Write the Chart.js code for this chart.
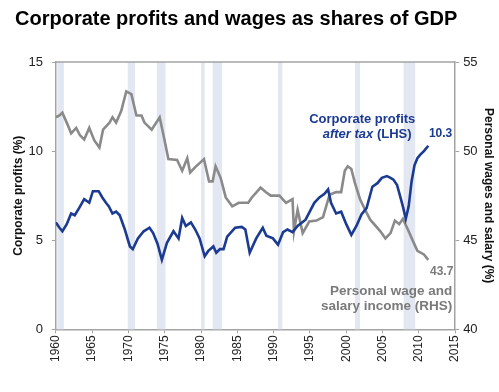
<!DOCTYPE html>
<html>
<head>
<meta charset="utf-8">
<script src="https://cdn.jsdelivr.net/npm/chart.js@4"></script>
<style>
  html, body { margin: 0; padding: 0; background: #fff; }
  #wrap { width: 499px; height: 392px; position: relative; }
</style>
</head>
<body>
<div id="wrap"><canvas id="profitsChart"></canvas></div>
<script>
// Corporate profits after tax, % of GDP (LHS)
const profitYears = [1960.0, 1960.5, 1960.9, 1961.5, 1962.1, 1962.6, 1963.2, 1963.9, 1964.6, 1965.1, 1965.9, 1966.4, 1966.9, 1967.3, 1967.8, 1968.3, 1968.8, 1969.5, 1970.2, 1970.6, 1971.3, 1972.1, 1972.9, 1973.4, 1974.0, 1974.6, 1975.3, 1976.2, 1976.9, 1977.4, 1977.9, 1978.6, 1979.2, 1979.8, 1980.5, 1981.0, 1981.7, 1982.1, 1982.6, 1983.1, 1983.6, 1984.7, 1985.6, 1986.1, 1986.7, 1987.6, 1988.5, 1989.0, 1989.9, 1990.6, 1991.3, 1991.9, 1992.6, 1993.3, 1994.4, 1995.6, 1996.3, 1997.0, 1997.5, 1997.9, 1998.6, 1999.3, 2000.0, 2000.7, 2001.4, 2002.1, 2002.8, 2003.6, 2004.3, 2004.9, 2005.6, 2006.1, 2006.5, 2007.0, 2007.4, 2007.8, 2008.2, 2008.6, 2009.0, 2009.4, 2009.8, 2010.2, 2010.7, 2011.3];
const profitValues = [6.0, 5.7, 5.5, 5.9, 6.5, 6.4, 6.8, 7.3, 7.1, 7.75, 7.75, 7.4, 7.1, 6.9, 6.5, 6.6, 6.4, 5.6, 4.65, 4.5, 5.1, 5.5, 5.7, 5.4, 4.8, 3.9, 4.85, 5.5, 5.1, 6.25, 5.8, 6.0, 5.6, 5.1, 4.1, 4.4, 4.65, 4.3, 4.5, 4.5, 5.2, 5.7, 5.75, 5.6, 4.3, 5.1, 5.7, 5.25, 5.1, 4.75, 5.45, 5.6, 5.45, 5.8, 6.15, 7.1, 7.4, 7.6, 7.85, 7.1, 6.5, 6.6, 5.9, 5.3, 5.8, 6.45, 6.8, 8.0, 8.2, 8.5, 8.6, 8.5, 8.4, 8.1, 7.5, 6.9, 6.2, 6.9, 8.3, 9.2, 9.6, 9.8, 10.0, 10.3];

// Personal wage and salary income, % of GDP (RHS)
const wageYears = [1960.0, 1960.5, 1960.9, 1961.6, 1962.1, 1962.8, 1963.3, 1963.9, 1964.6, 1965.3, 1966.0, 1966.5, 1967.4, 1967.8, 1968.3, 1969.0, 1969.7, 1970.4, 1971.1, 1971.8, 1972.2, 1973.2, 1974.3, 1974.8, 1975.5, 1976.7, 1977.4, 1978.1, 1978.5, 1979.2, 1980.4, 1981.1, 1981.6, 1982.0, 1982.7, 1983.4, 1984.3, 1985.2, 1986.5, 1987.0, 1988.2, 1988.9, 1989.6, 1990.8, 1991.7, 1992.6, 1992.8, 1993.3, 1994.0, 1994.9, 1995.9, 1996.8, 1997.7, 1998.6, 1999.3, 1999.8, 2000.2, 2000.7, 2001.2, 2001.9, 2002.6, 2003.3, 2004.7, 2005.4, 2006.1, 2006.7, 2007.3, 2007.8, 2008.6, 2009.3, 2009.8, 2010.7, 2011.3];
const wageValues = [51.9, 52.0, 52.15, 51.5, 51.0, 51.3, 50.9, 50.65, 51.3, 50.6, 50.2, 51.2, 51.6, 51.9, 51.6, 52.25, 53.35, 53.2, 52.0, 52.0, 51.6, 51.2, 51.9, 50.95, 49.55, 49.5, 48.9, 49.6, 48.8, 49.1, 49.55, 48.3, 48.3, 49.15, 48.5, 47.4, 46.9, 47.1, 47.1, 47.4, 47.95, 47.7, 47.5, 47.5, 47.1, 47.3, 45.5, 46.7, 45.4, 46.05, 46.1, 46.3, 47.55, 47.7, 47.7, 48.9, 49.15, 49.0, 48.2, 47.3, 46.7, 46.15, 45.5, 45.1, 45.4, 46.1, 45.9, 46.2, 45.5, 44.85, 44.4, 44.2, 43.9];

// US recessions (shaded)
const recessionStarts = [1960.2, 1969.9, 1973.9, 1980.0, 1981.6, 1990.6, 2001.2, 2007.9];
const recessionEnds   = [1961.1, 1970.9, 1975.1, 1980.5, 1982.9, 1991.2, 2001.9, 2009.5];

const xTicks = [1960, 1965, 1970, 1975, 1980, 1985, 1990, 1995, 2000, 2005, 2010, 2015];
const leftTicks = [0, 5, 10, 15];
const rightTicks = [40, 45, 50, 55];

const BLUE = '#1b3a92';
const GREY = '#8a8a8a';
const AXIS = '#a3a3a3';
const FONT = '"Liberation Sans", Arial, sans-serif';

const recessionBands = {
    id: 'recessionBands',
    beforeDatasetsDraw(chart) {
        const { ctx, chartArea, scales } = chart;
        ctx.save();
        ctx.fillStyle = '#e3e7f1';
        recessionStarts.forEach((s, i) => {
            const x1 = scales.x.getPixelForValue(s);
            const x2 = scales.x.getPixelForValue(recessionEnds[i]);
            ctx.fillRect(x1, chartArea.top, x2 - x1, chartArea.bottom - chartArea.top);
        });
        // top frame line
        ctx.strokeStyle = AXIS;
        ctx.lineWidth = 1.5;
        ctx.beginPath();
        ctx.moveTo(chartArea.left, chartArea.top);
        ctx.lineTo(chartArea.right, chartArea.top);
        ctx.stroke();
        ctx.restore();
    }
};

const labelsPlugin = {
    id: 'labelsPlugin',
    afterDraw(chart) {
        const { ctx, scales } = chart;
        const x = scales.x, y = scales.y, y1 = scales.y1;
        ctx.save();
        // Title
        ctx.fillStyle = '#000';
        ctx.font = 'bold 20px ' + FONT;
        ctx.textAlign = 'left';
        ctx.textBaseline = 'alphabetic';
        ctx.fillText('Corporate profits and wages as shares of GDP', 15, 25);

        // Corporate profits annotation
        ctx.fillStyle = BLUE;
        ctx.textBaseline = 'middle';
        ctx.textAlign = 'center';
        ctx.font = 'bold 13px ' + FONT;
        ctx.fillText('Corporate profits', x.getPixelForValue(2002.2), y.getPixelForValue(11.8));
        ctx.textAlign = 'right';
        const rowY = y.getPixelForValue(10.95);
        const rowRight = x.getPixelForValue(2009.0);
        ctx.fillText('(LHS)', rowRight, rowY);
        const lhsW = ctx.measureText('(LHS) ').width;
        ctx.font = 'italic bold 13px ' + FONT;
        ctx.fillText('after tax', rowRight - lhsW, rowY);
        ctx.font = 'bold 12px ' + FONT;
        ctx.fillText('10.3', x.getPixelForValue(2014.6), rowY);

        // Wages annotation
        ctx.fillStyle = '#7a7a7a';
        ctx.fillText('43.7', x.getPixelForValue(2014.75), y1.getPixelForValue(43.26));
        ctx.font = 'bold 13.5px ' + FONT;
        ctx.fillText('Personal wage and', x.getPixelForValue(2014.6), y1.getPixelForValue(42.13));
        ctx.fillText('salary income (RHS)', x.getPixelForValue(2014.6), y1.getPixelForValue(41.29));
        ctx.restore();
    }
};

const ctx = document.getElementById('profitsChart').getContext('2d');
new Chart(ctx, {
    type: 'line',
    data: {
        datasets: [
            {
                label: 'Corporate profits after tax (LHS)',
                data: profitYears.map((yr, i) => ({ x: yr, y: profitValues[i] })),
                borderColor: BLUE,
                borderWidth: 2.6,
                pointRadius: 0,
                tension: 0,
                yAxisID: 'y'
            },
            {
                label: 'Personal wage and salary income (RHS)',
                data: wageYears.map((yr, i) => ({ x: yr, y: wageValues[i] })),
                borderColor: GREY,
                borderWidth: 2.6,
                pointRadius: 0,
                tension: 0,
                yAxisID: 'y1'
            }
        ]
    },
    options: {
        responsive: true,
        maintainAspectRatio: false,
        animation: false,
        layout: { padding: { top: 62, bottom: 28, left: 1, right: -5 } },
        plugins: {
            legend: { display: false },
            tooltip: { enabled: false },
            title: { display: false }
        },
        scales: {
            x: {
                type: 'linear',
                min: 1960,
                max: 2015,
                afterBuildTicks: (axis) => { axis.ticks = xTicks.map(v => ({ value: v })); },
                ticks: {
                    minRotation: 90,
                    maxRotation: 90,
                    color: '#222',
                    font: { family: FONT, size: 12 },
                    padding: 2,
                    callback: v => String(v)
                },
                grid: { drawOnChartArea: false, color: AXIS, tickLength: 4 },
                border: { color: AXIS, width: 1.5 }
            },
            y: {
                position: 'left',
                min: 0,
                max: 15,
                afterBuildTicks: (axis) => { axis.ticks = leftTicks.map(v => ({ value: v })); },
                ticks: { color: '#222', font: { family: FONT, size: 13 }, padding: 9 },
                grid: { drawOnChartArea: false, color: AXIS, tickLength: 4 },
                border: { color: AXIS, width: 1.5 },
                title: {
                    display: true,
                    text: 'Corporate profits (%)',
                    color: '#111',
                    font: { family: FONT, size: 12, weight: 'bold' },
                    padding: { top: 10, bottom: -6 }
                }
            },
            y1: {
                position: 'right',
                min: 40,
                max: 55,
                afterBuildTicks: (axis) => { axis.ticks = rightTicks.map(v => ({ value: v })); },
                ticks: { color: '#222', font: { family: FONT, size: 13 }, padding: 4 },
                grid: { drawOnChartArea: false, color: AXIS, tickLength: 4 },
                border: { color: AXIS, width: 1.5 },
                title: {
                    display: true,
                    text: 'Personal wages and salary (%)',
                    color: '#111',
                    font: { family: FONT, size: 12, weight: 'bold' },
                    padding: { top: 8, bottom: 0 }
                }
            }
        }
    },
    plugins: [recessionBands, labelsPlugin]
});
</script>
</body>
</html>
